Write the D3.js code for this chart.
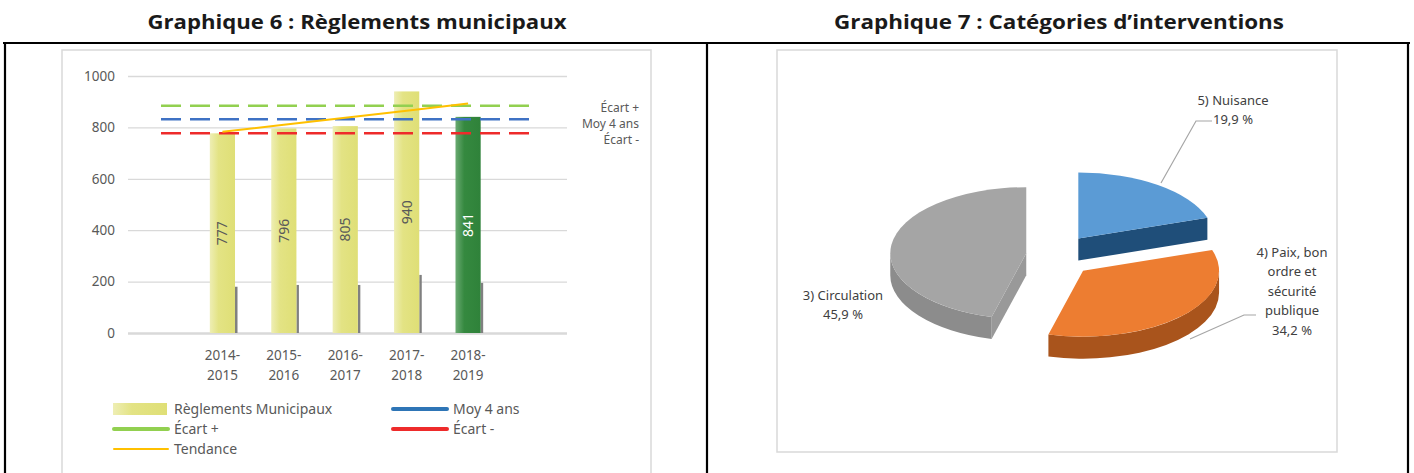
<!DOCTYPE html>
<html>
<head>
<meta charset="utf-8">
<script src="https://cdn.jsdelivr.net/npm/d3@7"></script>
<style>
  body { margin: 0; background: #fff; }
  svg { display: block; font-family: "Noto Sans", sans-serif; }
</style>
</head>
<body>
<svg id="chart" width="1414" height="473"></svg>
<script>
// Graphique 6 : données
const annees = ["2014-2015", "2015-2016", "2016-2017", "2017-2018", "2018-2019"];
const reglements = [777, 796, 805, 940, 841];
const ombres = [180, 187, 187, 226, 195]; // petit trait gris à droite des barres
const tendance = [783, 810, 838, 865, 893];
const moy4ans = 832;
const ecartPlus = 884;
const ecartMoins = 777;
const yTicks = [0, 200, 400, 600, 800, 1000];

// Graphique 7 : données
const categories = ["5) Nuisance", "4) Paix, bon\nordre et\nsécurité\npublique", "3) Circulation"];
const pourcentages = [19.9, 34.2, 45.9];

const svg = d3.select("#chart");
const gris = "#595959";

svg.append("rect").attr("width", 1414).attr("height", 473).attr("fill", "#fff");

// dégradés des barres
const defs = svg.append("defs");
function degrade(id, stops) {
  const g = defs.append("linearGradient").attr("id", id)
    .attr("x1", 0).attr("x2", 1).attr("y1", 0).attr("y2", 0);
  stops.forEach(s => g.append("stop").attr("offset", s[0]).attr("stop-color", s[1]));
}
degrade("gradJaune", [["0%", "#eeeeb4"], ["35%", "#e3e384"], ["100%", "#dfdf76"]]);
degrade("gradVert", [["0%", "#6aaa72"], ["35%", "#35893f"], ["100%", "#2f823a"]]);

// titres
function titre(txt, cx, len) {
  svg.append("text")
    .attr("x", cx).attr("y", 29)
    .attr("text-anchor", "middle")
    .attr("font-family", "'Open Sans', sans-serif")
    .attr("font-weight", "bold")
    .attr("font-size", 20)
    .attr("textLength", len)
    .attr("lengthAdjust", "spacingAndGlyphs")
    .attr("fill", "#1a1a1a")
    .text(txt);
}
titre("Graphique 6 : Règlements municipaux", 357, 419);
titre("Graphique 7 : Catégories d’interventions", 1059, 450);

// cadre du tableau
svg.append("line").attr("x1", 3).attr("x2", 1410).attr("y1", 43).attr("y2", 43)
  .attr("stroke", "#000").attr("stroke-width", 2.2);
[5, 707, 1408].forEach(xv => {
  svg.append("line").attr("x1", xv).attr("x2", xv).attr("y1", 43).attr("y2", 473)
    .attr("stroke", "#000").attr("stroke-width", 2.2);
});
// zones des graphiques
svg.append("rect").attr("x", 62).attr("y", 50).attr("width", 589).attr("height", 440)
  .attr("fill", "none").attr("stroke", "#d9d9d9").attr("stroke-width", 1.5);
svg.append("rect").attr("x", 777).attr("y", 50).attr("width", 560).attr("height", 402)
  .attr("fill", "none").attr("stroke", "#d9d9d9").attr("stroke-width", 1.5);

// ---------- Graphique 6 ----------
const x = d3.scalePoint().domain(["debut", ...annees, "fin"]).range([161, 529.5]);
const y = d3.scaleLinear().domain([0, 1000]).range([333, 76]);
const largeur = x.step() * 0.41;

const gAxe = svg.append("g").attr("transform", "translate(128,0)")
  .call(d3.axisLeft(y).tickValues(yTicks).tickSize(-439).tickPadding(13).tickFormat(d3.format("d")));
gAxe.select(".domain").remove();
gAxe.selectAll(".tick line").attr("stroke", "#d9d9d9").attr("stroke-width", d => d === 0 ? 2.5 : 1.3);
gAxe.selectAll(".tick text").attr("fill", gris).attr("font-size", 13.5)
  .attr("font-family", "'Noto Sans', sans-serif");

const barres = svg.append("g").selectAll("g").data(annees).join("g");
barres.append("rect")
  .attr("x", (d, i) => x(d) + largeur / 2)
  .attr("y", (d, i) => y(ombres[i]))
  .attr("width", 2.5)
  .attr("height", (d, i) => y(0) - y(ombres[i]))
  .attr("fill", "#808080");
barres.append("rect")
  .attr("x", d => x(d) - largeur / 2)
  .attr("y", (d, i) => y(reglements[i]))
  .attr("width", largeur)
  .attr("height", (d, i) => y(0) - y(reglements[i]))
  .attr("fill", (d, i) => i === annees.length - 1 ? "url(#gradVert)" : "url(#gradJaune)");
barres.append("text")
  .attr("transform", (d, i) => `translate(${x(d)},${(y(reglements[i]) + y(0)) / 2}) rotate(-90)`)
  .attr("text-anchor", "middle")
  .attr("dy", "0.35em")
  .attr("font-size", 14)
  .attr("fill", (d, i) => i === annees.length - 1 ? "#fff" : gris)
  .text((d, i) => reglements[i]);

// étiquettes des années
const etiq = svg.append("g").selectAll("text").data(annees).join("text")
  .attr("x", d => x(d)).attr("y", 360)
  .attr("text-anchor", "middle").attr("font-size", 13.5).attr("fill", gris);
etiq.append("tspan").attr("x", d => x(d)).text(d => d.split("-")[0] + "-");
etiq.append("tspan").attr("x", d => x(d)).attr("dy", 20).text(d => d.split("-")[1]);

// lignes de référence
const refs = [
  { nom: "Écart +", val: ecartPlus, couleur: "#92d050", dy: 2.5 },
  { nom: "Moy 4 ans", val: moy4ans, couleur: "#3f72c4", dy: 5 },
  { nom: "Écart -", val: ecartMoins, couleur: "#ee2b2b", dy: 6.5 }
];
svg.append("g").selectAll("line").data(refs).join("line")
  .attr("x1", x("debut")).attr("x2", x("fin"))
  .attr("y1", d => y(d.val)).attr("y2", d => y(d.val))
  .attr("stroke", d => d.couleur).attr("stroke-width", 2.5)
  .attr("stroke-dasharray", "20 9");
svg.append("g").selectAll("text").data(refs).join("text")
  .attr("x", 639).attr("y", d => y(d.val) + d.dy)
  .attr("dy", "0.33em")
  .attr("text-anchor", "end").attr("font-size", 12).attr("fill", gris)
  .text(d => d.nom);

// tendance
svg.append("path")
  .datum(tendance)
  .attr("d", d3.line().x((d, i) => x(annees[i])).y(d => y(d)))
  .attr("fill", "none").attr("stroke", "#ffc000").attr("stroke-width", 2);

// légende
const legende = [
  { nom: "Règlements Municipaux", type: "barre", couleur: "url(#gradJaune)", col: 0, lig: 0 },
  { nom: "Moy 4 ans", type: "ligne", couleur: "#2e75b6", ep: 4, col: 1, lig: 0 },
  { nom: "Écart +", type: "ligne", couleur: "#92d050", ep: 4, col: 0, lig: 1 },
  { nom: "Écart -", type: "ligne", couleur: "#ee2b2b", ep: 4, col: 1, lig: 1 },
  { nom: "Tendance", type: "ligne", couleur: "#ffc000", ep: 2, col: 0, lig: 2 }
];
const colX = [113, 392], ligY = [409, 429, 449];
const leg = svg.append("g").selectAll("g").data(legende).join("g")
  .attr("transform", d => `translate(${colX[d.col]},${ligY[d.lig]})`);
leg.filter(d => d.type === "barre").append("rect")
  .attr("x", 0).attr("y", -6).attr("width", 54).attr("height", 12).attr("fill", d => d.couleur);
leg.filter(d => d.type === "ligne").append("line")
  .attr("x1", 1).attr("x2", 55).attr("y1", 0).attr("y2", 0)
  .attr("stroke", d => d.couleur).attr("stroke-width", d => d.ep).attr("stroke-linecap", "round");
leg.append("text").attr("x", 61).attr("dy", "0.35em")
  .attr("font-size", 14).attr("fill", gris).text(d => d.nom);

// ---------- Graphique 7 : secteurs 3D ----------
const couleurs = [
  { dessus: "#5b9bd5", cote: "#1f4e79", bord: "#2e5f8f" },
  { dessus: "#ed7d31", cote: "#a9541c", bord: "#b65d20" },
  { dessus: "#a5a5a5", cote: "#8c8c8c", bord: "#999999" }
];
const cx = 1059, cy = 256, rx = 136, ry = 66, prof = 22, eclat = 33;
const secteurs = d3.pie().sort(null).value(d => d)(pourcentages);

function pt(c, a, dy = 0) {
  return [c[0] + rx * Math.sin(a), c[1] - ry * Math.cos(a) + dy];
}
function arcSvg(p, large, sens) {
  return `A${rx},${ry} 0 ${large} ${sens} ${p[0]},${p[1]}`;
}

const gPie = svg.append("g");
// ordre d'affichage : arrière vers avant
[0, 2, 1].forEach(i => {
  const s = secteurs[i];
  const mid = (s.startAngle + s.endAngle) / 2;
  const c = [cx + eclat * Math.sin(mid), cy - eclat * 0.65 * Math.cos(mid)];
  const col = couleurs[i];
  const g = gPie.append("g");

  // parois radiales
  const paroi = a => {
    const p = pt(c, a);
    return `M${c[0]},${c[1]} L${p[0]},${p[1]} L${p[0]},${p[1] + prof} L${c[0]},${c[1] + prof} Z`;
  };
  if (Math.sin(s.startAngle) < -0.01) g.append("path").attr("d", paroi(s.startAngle)).attr("fill", col.bord);
  if (Math.sin(s.endAngle) > 0.01) g.append("path").attr("d", paroi(s.endAngle)).attr("fill", col.cote);

  // paroi extérieure (partie avant de l'ellipse)
  const a0 = Math.max(s.startAngle, Math.PI / 2), a1 = Math.min(s.endAngle, 3 * Math.PI / 2);
  if (a1 > a0) {
    const p0 = pt(c, a0), p1 = pt(c, a1), q0 = pt(c, a0, prof), q1 = pt(c, a1, prof);
    g.append("path")
      .attr("d", `M${p0[0]},${p0[1]} ${arcSvg(p1, 0, 1)} L${q1[0]},${q1[1]} ${arcSvg(q0, 0, 0)} Z`)
      .attr("fill", col.cote);
  }

  // dessus
  const d0 = pt(c, s.startAngle), d1 = pt(c, s.endAngle);
  const large = s.endAngle - s.startAngle > Math.PI ? 1 : 0;
  g.append("path")
    .attr("d", `M${c[0]},${c[1]} L${d0[0]},${d0[1]} ${arcSvg(d1, large, 1)} Z`)
    .attr("fill", col.dessus);
});

// étiquettes et lignes de rappel
const etiquettes = [
  { x: 1233, y: 100, rappel: [[1212, 121], [1196, 121], [1161, 183]] },
  { x: 1292, y: 252, rappel: [[1256, 315], [1244, 315], [1190, 339]] },
  { x: 843, y: 295, rappel: null }
];
const fmt = v => v.toFixed(1).replace(".", ",") + " %";
etiquettes.forEach((e, i) => {
  if (e.rappel) {
    svg.append("path").attr("d", d3.line()(e.rappel))
      .attr("fill", "none").attr("stroke", "#a6a6a6").attr("stroke-width", 1.2);
  }
  const lignes = categories[i].split("\n").concat(fmt(pourcentages[i]));
  const t = svg.append("text").attr("text-anchor", "middle").attr("font-size", 13).attr("fill", "#404040");
  lignes.forEach((l, k) => {
    t.append("tspan").attr("x", e.x).attr("y", e.y + k * 19.5).attr("dy", "0.35em").text(l);
  });
});
</script>
</body>
</html>
